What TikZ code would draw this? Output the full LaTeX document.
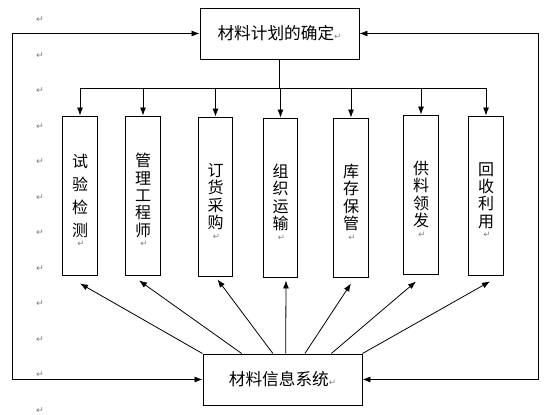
\documentclass[tikz,border=0pt]{standalone}
\usepackage{fontspec}
\usetikzlibrary{arrows,arrows.meta,positioning,calc}
\newfontfamily\cjk{Noto Sans CJK SC}
\newfontfamily\dejavu{DejaVu Sans}
\definecolor{markgray}{gray}{0.5}
\newcommand{\retmk}{{\dejavu\fontsize{6.5}{6.5}\selectfont\textcolor{markgray}{↵}}}
\newcommand{\tailmk}{\smash{\rlap{\raisebox{-8pt}{\hspace{-8pt}\retmk}}}}
\tikzstyle{wide} = [rectangle,draw,line width=0.7pt,minimum width=119.25pt,minimum height=38.25pt,inner sep=0pt,font=\cjk\fontsize{12.5}{15}\selectfont]
\tikzstyle{tall} = [rectangle,draw,line width=0.7pt,minimum width=25.9pt,minimum height=119.25pt,inner sep=0pt,align=center,font=\cjk\fontsize{12}{13}\selectfont]
\tikzstyle{pmark} = [inner sep=0pt,font=\dejavu\fontsize{7}{7}\selectfont,text=markgray]

\begin{document}
\begin{tikzpicture}[x=0.75pt,y=-0.75pt,>={Latex[length=6pt,width=4.5pt]},line width=0.6pt]
\useasboundingbox (0,0) rectangle (560,414);
%-------------------------start paragraph marks ---------------------
	\foreach \k in {0,...,11}
		\node[pmark] (pm\k) at (40,{20+35.5*\k}) {↵};
%--------------------------end paragraph marks ----------------------
%--------------------start object code --------------------
	%Plan and information system
	\node[wide] (plan) at (279.5,33.5) {材料计划的确定\retmk};
	\node[wide] (info) at (282.5,379.5) {材料信息系统\retmk};
	
	%Material tasks
	\node[tall] (test) at (80,195.5) {试\\[4.25pt]验\\[4.25pt]检\\[4.25pt]测\tailmk};
	\node[tall] (engineer) at (143,195.5) {管\\理\\工\\程\\师\tailmk};
	\node[tall] (order) at (215.5,196.5) {订\\货\\采\\购\tailmk};
	\node[tall] (transport) at (280.5,197.5) {组\\织\\运\\输\tailmk};
	\node[tall] (store) at (351,197.5) {库\\存\\保\\管\tailmk};
	\node[tall] (supply) at (421,194.5) {供\\料\\领\\发\tailmk};
	\node[tall] (recycle) at (486,195.5) {回\\收\\利\\用\tailmk};
	
	%Distribution
	\coordinate (bar) at (280,88);
	\draw (plan.south) -- (plan.south |- bar);
	\draw (test.north |- bar) -- (recycle.north |- bar);
	\foreach \n in {test,engineer,order,transport,store,supply,recycle}
		\draw[->] (\n.north |- bar) -- (\n.north);
	
	%Information feedback
	\foreach \n/\f/\dx/\dy in {test/0/0/8, engineer/0.245/-4/5, order/0.44/2/3, transport/0.52/5.5/3, store/0.64/0/6, supply/0.805/-5/7, recycle/1/4/6}
		\draw[->] ($(info.north west)!\f!(info.north east)$) -- ($(\n.south)+(\dx,\dy)$);
	
	%Outer loops
	\coordinate (leftway) at (12,0);
	\coordinate (rightway) at (538,0);
	\draw[<->] (plan.west) -- (plan.west -| leftway) -- (info.west -| leftway) -- (info.west);
	\draw[<->] (plan.east) -- (plan.east -| rightway) -- (info.east -| rightway) -- (info.east);
%-------------------------end object code-----------------------
\end{tikzpicture}
\end{document}
